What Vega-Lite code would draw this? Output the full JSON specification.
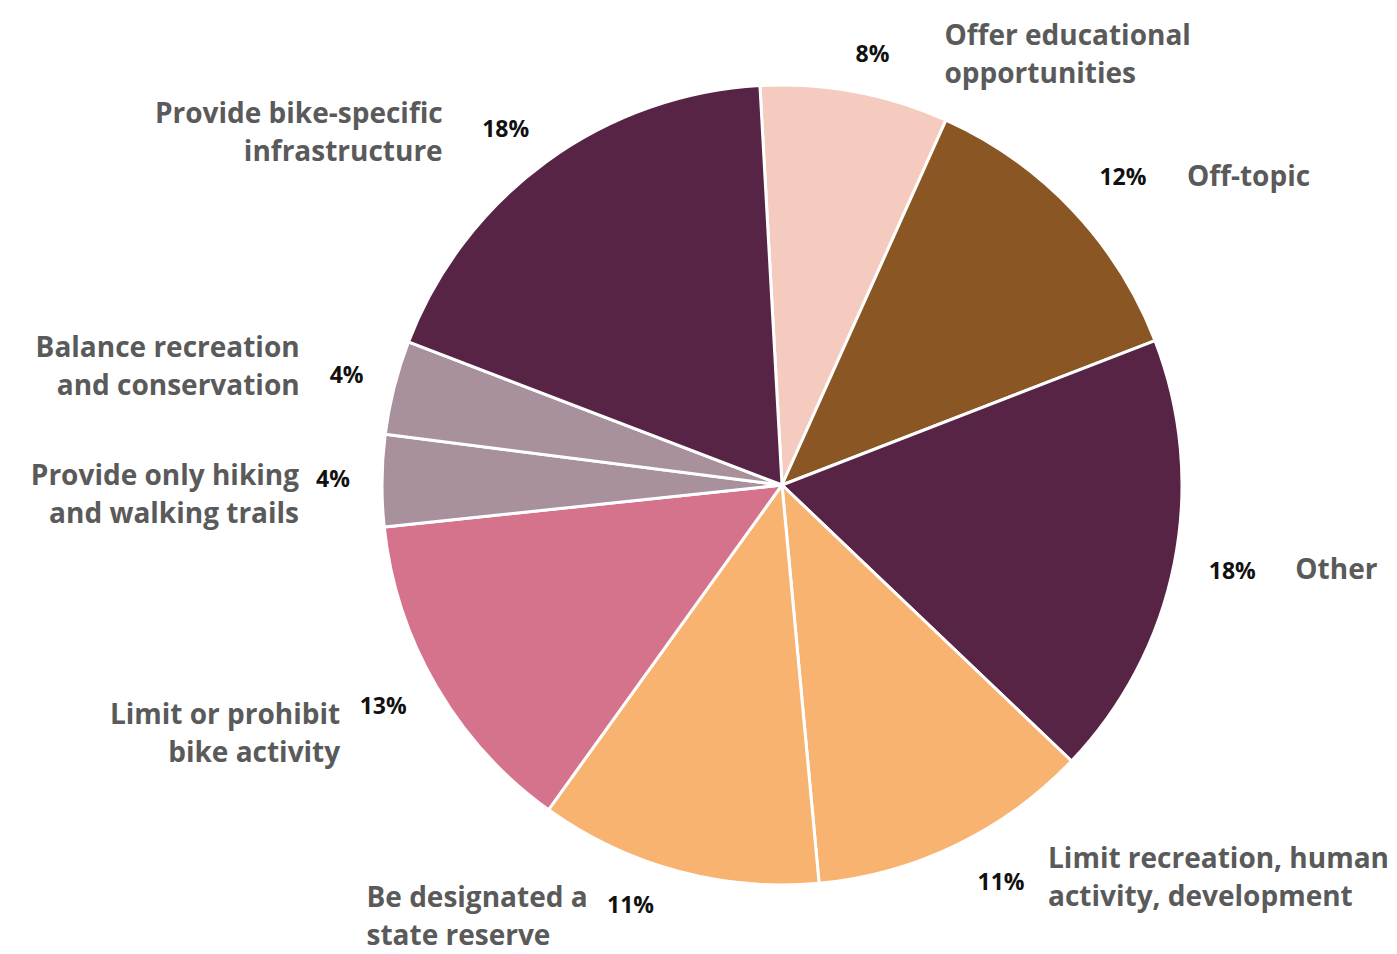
{
  "$schema": "https://vega.github.io/schema/vega-lite/v6.json",
  "width": 1230,
  "height": 938,
  "autosize": {"type": "none"},
  "padding": {"left": 167, "top": 16, "right": 0, "bottom": 0},
  "background": "white",
  "config": {"view": {"stroke": null}},
  "data": {
    "values": [
      {"rank": 1, "cat": "Offer educational opportunities", "label": "Offer educational\nopportunities", "share": 0.076},
      {"rank": 2, "cat": "Off-topic", "label": "Off-topic", "share": 0.124},
      {"rank": 3, "cat": "Other", "label": "Other", "share": 0.180},
      {"rank": 4, "cat": "Limit recreation, human activity, development", "label": "Limit recreation, human\nactivity, development", "share": 0.114},
      {"rank": 5, "cat": "Be designated a state reserve", "label": "Be designated a\nstate reserve", "share": 0.114},
      {"rank": 6, "cat": "Limit or prohibit bike activity", "label": "Limit or prohibit\nbike activity", "share": 0.134},
      {"rank": 7, "cat": "Provide only hiking and walking trails", "label": "Provide only hiking\nand walking trails", "share": 0.037},
      {"rank": 8, "cat": "Balance recreation and conservation", "label": "Balance recreation\nand conservation", "share": 0.038},
      {"rank": 9, "cat": "Provide bike-specific infrastructure", "label": "Provide bike-specific\ninfrastructure", "share": 0.183}
    ]
  },
  "encoding": {
    "theta": {"field": "share", "type": "quantitative", "stack": true, "scale": {"range": [-0.0552, 6.228]}},
    "order": {"field": "rank", "type": "quantitative"}
  },
  "layer": [
    {
      "mark": {"type": "arc", "outerRadius": 400, "stroke": "white", "strokeWidth": 3},
      "encoding": {
        "color": {
          "field": "cat", "type": "nominal", "legend": null,
          "scale": {
            "domain": ["Offer educational opportunities", "Off-topic", "Other", "Limit recreation, human activity, development", "Be designated a state reserve", "Limit or prohibit bike activity", "Provide only hiking and walking trails", "Balance recreation and conservation", "Provide bike-specific infrastructure"],
            "range": ["#F6CBBF", "#8A5623", "#582445", "#F9B370", "#F9B370", "#D6738C", "#A8919D", "#A8919D", "#582445"]
          }
        }
      }
    },
    {"mark": {"type": "text", "radius": 452, "dx": 8, "dy": 14, "font": "Open Sans", "fontWeight": "bold", "fontSize": 23, "color": "#111111", "align": "center", "baseline": "middle"},
     "encoding": {"text": {"condition": {"test": "datum.rank === 1", "field": "share", "type": "quantitative", "format": ".0%"}, "value": ""}}},
    {"mark": {"type": "text", "radius": 452, "dx": 13, "dy": 4, "font": "Open Sans", "fontWeight": "bold", "fontSize": 23, "color": "#111111", "align": "center", "baseline": "middle"},
     "encoding": {"text": {"condition": {"test": "datum.rank === 2", "field": "share", "type": "quantitative", "format": ".0%"}, "value": ""}}},
    {"mark": {"type": "text", "radius": 452, "dx": 7, "dy": -1, "font": "Open Sans", "fontWeight": "bold", "fontSize": 23, "color": "#111111", "align": "center", "baseline": "middle"},
     "encoding": {"text": {"condition": {"test": "datum.rank === 3", "field": "share", "type": "quantitative", "format": ".0%"}, "value": ""}}},
    {"mark": {"type": "text", "radius": 452, "dx": 22, "dy": -9, "font": "Open Sans", "fontWeight": "bold", "fontSize": 23, "color": "#111111", "align": "center", "baseline": "middle"},
     "encoding": {"text": {"condition": {"test": "datum.rank === 4", "field": "share", "type": "quantitative", "format": ".0%"}, "value": ""}}},
    {"mark": {"type": "text", "radius": 452, "dx": -33, "dy": -15, "font": "Open Sans", "fontWeight": "bold", "fontSize": 23, "color": "#111111", "align": "center", "baseline": "middle"},
     "encoding": {"text": {"condition": {"test": "datum.rank === 5", "field": "share", "type": "quantitative", "format": ".0%"}, "value": ""}}},
    {"mark": {"type": "text", "radius": 452, "dx": -8, "dy": -5, "font": "Open Sans", "fontWeight": "bold", "fontSize": 23, "color": "#111111", "align": "center", "baseline": "middle"},
     "encoding": {"text": {"condition": {"test": "datum.rank === 6", "field": "share", "type": "quantitative", "format": ".0%"}, "value": ""}}},
    {"mark": {"type": "text", "radius": 452, "dx": 3, "dy": 0, "font": "Open Sans", "fontWeight": "bold", "fontSize": 23, "color": "#111111", "align": "center", "baseline": "middle"},
     "encoding": {"text": {"condition": {"test": "datum.rank === 7", "field": "share", "type": "quantitative", "format": ".0%"}, "value": ""}}},
    {"mark": {"type": "text", "radius": 452, "dx": 3, "dy": 1, "font": "Open Sans", "fontWeight": "bold", "fontSize": 23, "color": "#111111", "align": "center", "baseline": "middle"},
     "encoding": {"text": {"condition": {"test": "datum.rank === 8", "field": "share", "type": "quantitative", "format": ".0%"}, "value": ""}}},
    {"mark": {"type": "text", "radius": 452, "dx": -10, "dy": 10, "font": "Open Sans", "fontWeight": "bold", "fontSize": 23, "color": "#111111", "align": "center", "baseline": "middle"},
     "encoding": {"text": {"condition": {"test": "datum.rank === 9", "field": "share", "type": "quantitative", "format": ".0%"}, "value": ""}}},
    {"mark": {"type": "text", "radius": 452, "dx": 80, "dy": -4, "font": "Open Sans", "fontWeight": "bold", "fontSize": 28, "lineHeight": 38, "lineBreak": "\n", "color": "#5A5A5A", "align": "left", "baseline": "middle"},
     "encoding": {"text": {"condition": {"test": "datum.rank === 1", "field": "label"}, "value": ""}}},
    {"mark": {"type": "text", "radius": 452, "dx": 77, "dy": 4, "font": "Open Sans", "fontWeight": "bold", "fontSize": 28, "lineHeight": 38, "lineBreak": "\n", "color": "#5A5A5A", "align": "left", "baseline": "middle"},
     "encoding": {"text": {"condition": {"test": "datum.rank === 2", "field": "label"}, "value": ""}}},
    {"mark": {"type": "text", "radius": 452, "dx": 70, "dy": -2, "font": "Open Sans", "fontWeight": "bold", "fontSize": 28, "lineHeight": 38, "lineBreak": "\n", "color": "#5A5A5A", "align": "left", "baseline": "middle"},
     "encoding": {"text": {"condition": {"test": "datum.rank === 3", "field": "label"}, "value": ""}}},
    {"mark": {"type": "text", "radius": 452, "dx": 69, "dy": -32, "font": "Open Sans", "fontWeight": "bold", "fontSize": 28, "lineHeight": 38, "lineBreak": "\n", "color": "#5A5A5A", "align": "left", "baseline": "middle"},
     "encoding": {"text": {"condition": {"test": "datum.rank === 4", "field": "label"}, "value": ""}}},
    {"mark": {"type": "text", "radius": 452, "dx": -297, "dy": -22, "font": "Open Sans", "fontWeight": "bold", "fontSize": 28, "lineHeight": 38, "lineBreak": "\n", "color": "#5A5A5A", "align": "left", "baseline": "middle"},
     "encoding": {"text": {"condition": {"test": "datum.rank === 5", "field": "label"}, "value": ""}}},
    {"mark": {"type": "text", "radius": 452, "dx": -51, "dy": 4, "font": "Open Sans", "fontWeight": "bold", "fontSize": 28, "lineHeight": 38, "lineBreak": "\n", "color": "#5A5A5A", "align": "right", "baseline": "middle"},
     "encoding": {"text": {"condition": {"test": "datum.rank === 6", "field": "label"}, "value": ""}}},
    {"mark": {"type": "text", "radius": 452, "dx": -31, "dy": -3, "font": "Open Sans", "fontWeight": "bold", "fontSize": 28, "lineHeight": 38, "lineBreak": "\n", "color": "#5A5A5A", "align": "right", "baseline": "middle"},
     "encoding": {"text": {"condition": {"test": "datum.rank === 7", "field": "label"}, "value": ""}}},
    {"mark": {"type": "text", "radius": 452, "dx": -44, "dy": -26, "font": "Open Sans", "fontWeight": "bold", "fontSize": 28, "lineHeight": 38, "lineBreak": "\n", "color": "#5A5A5A", "align": "right", "baseline": "middle"},
     "encoding": {"text": {"condition": {"test": "datum.rank === 8", "field": "label"}, "value": ""}}},
    {"mark": {"type": "text", "radius": 452, "dx": -73, "dy": -5, "font": "Open Sans", "fontWeight": "bold", "fontSize": 28, "lineHeight": 38, "lineBreak": "\n", "color": "#5A5A5A", "align": "right", "baseline": "middle"},
     "encoding": {"text": {"condition": {"test": "datum.rank === 9", "field": "label"}, "value": ""}}}
  ]
}
